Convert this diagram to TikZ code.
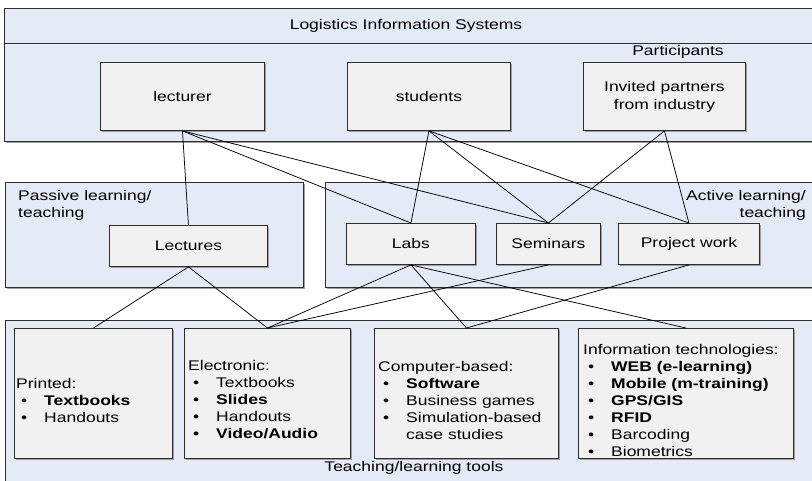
\documentclass[tikz,border=0pt]{standalone}
\usepackage{fontspec}
\setmainfont{Liberation Sans}[FakeStretch=1.25]
\usetikzlibrary{shadows}

\definecolor{areablue}{HTML}{E4EBF6}
\definecolor{boxgray}{HTML}{F1F1F1}
\definecolor{edge}{HTML}{2E2E2E}

% bullet line of a list: bullet, then the text at a fixed indent
\newcommand{\bul}[1]{\makebox[28pt][l]{\hspace{5pt}\textbullet}#1}
\newcommand{\cont}[1]{\makebox[28pt][l]{}#1}

\tikzset{
  x=1pt, y=-1pt,
  shade/.style={drop shadow={shadow xshift=1.2pt, shadow yshift=-1.5pt, fill=gray!75, opacity=1}},
  area/.style={draw=edge, line width=0.9pt, fill=areablue, anchor=north west,
    inner sep=0pt, shade},
  unit/.style={draw=edge, line width=0.9pt, fill=boxgray, anchor=north west,
    inner sep=0pt, shade, font=\fontsize{14}{18}\selectfont, align=center},
  lbl/.style={font=\fontsize{14}{17}\selectfont, inner sep=0pt},
  list/.style={lbl, anchor=west, align=left},
  link/.style={draw=black, line width=0.75pt},
}

\begin{document}
\begin{tikzpicture}
\useasboundingbox (0,0) rectangle (812,480);
\clip (0,0) rectangle (812,480);

% ---- participants area ----
\node[area, minimum width=820pt, minimum height=133pt] (lis) at (4,8) {};
\draw[draw=edge, line width=0.9pt] (4,43) -- (830,43);
\node[lbl] (title) at (406,26) {Logistics Information Systems};
\node[lbl] (part) at (678,52) {Participants};

\node[unit, minimum width=164pt, minimum height=68pt] (lecturer) at (100,62) {lecturer};
\node[unit, minimum width=163pt, minimum height=68pt] (students) at (347,62) {students};
\node[unit, minimum width=162pt, minimum height=68pt] (invited) at (583,62) {Invited partners\\from industry};

% ---- learning / teaching areas ----
\node[area, minimum width=298pt, minimum height=105pt] (passive) at (5,182) {};
\node[area, minimum width=500pt, minimum height=105pt] (active) at (325,182) {};
\node[lbl, anchor=north west, align=left] (passlbl) at (18,190) {Passive learning/\\teaching};
\node[lbl, anchor=north east, align=right] (actlbl) at (806,190) {Active learning/\\teaching};

\node[unit, minimum width=158pt, minimum height=41pt] (lectures) at (109,225) {Lectures};
\node[unit, minimum width=129pt, minimum height=41pt] (labs) at (346,223) {Labs};
\node[unit, minimum width=104pt, minimum height=41pt] (seminars) at (496,223) {Seminars};
\node[unit, minimum width=141pt, minimum height=41pt] (project) at (618,223) {Project work};

% ---- teaching / learning tools ----
\node[area, minimum width=820pt, minimum height=170pt] (tools) at (5,320) {};
\node[lbl] (toolslbl) at (414,468) {Teaching/learning tools};

\node[unit, minimum width=158pt, minimum height=130pt] (printed) at (14,328) {};
\node[unit, minimum width=166pt, minimum height=130pt] (electronic) at (184,328) {};
\node[unit, minimum width=184pt, minimum height=130pt] (computer) at (374,328) {};
\node[unit, minimum width=215pt, minimum height=130pt] (infotech) at (578,328) {};

\node[list] (printedtxt) at (16,400)
  {Printed:\\\bul{\textbf{Textbooks}}\\\bul{Handouts}};
\node[list] (electronictxt) at (188,400)
  {Electronic:\\\bul{Textbooks}\\\bul{\textbf{Slides}}\\\bul{Handouts}\\\bul{\textbf{Video/Audio}}};
\node[list] (computertxt) at (378,400)
  {Computer-based:\\\bul{\textbf{Software}}\\\bul{Business games}\\\bul{Simulation-based}\\\cont{case studies}};
\node[list] (infotechtxt) at (583,400)
  {Information technologies:\\\bul{\textbf{WEB (e-learning)}}\\\bul{\textbf{Mobile (m-training)}}\\\bul{\textbf{GPS/GIS}}\\\bul{\textbf{RFID}}\\\bul{Barcoding}\\\bul{Biometrics}};

% ---- connectors ----
\draw[link] (lecturer.south) -- (lectures.north);
\draw[link] (lecturer.south) -- (labs.north);
\draw[link] (lecturer.south) -- (seminars.north);
\draw[link] (students.south) -- (labs.north);
\draw[link] (students.south) -- (seminars.north);
\draw[link] (students.south) -- (project.north);
\draw[link] (invited.south) -- (seminars.north);
\draw[link] (invited.south) -- (project.north);

\draw[link] (lectures.south) -- (printed.north);
\draw[link] (lectures.south) -- (electronic.north);
\draw[link] (labs.south) -- (electronic.north);
\draw[link] (labs.south) -- (computer.north);
\draw[link] (labs.south) -- (infotech.north);
\draw[link] (seminars.south) -- (electronic.north);
\draw[link] (project.south) -- (computer.north);
\end{tikzpicture}
\end{document}
